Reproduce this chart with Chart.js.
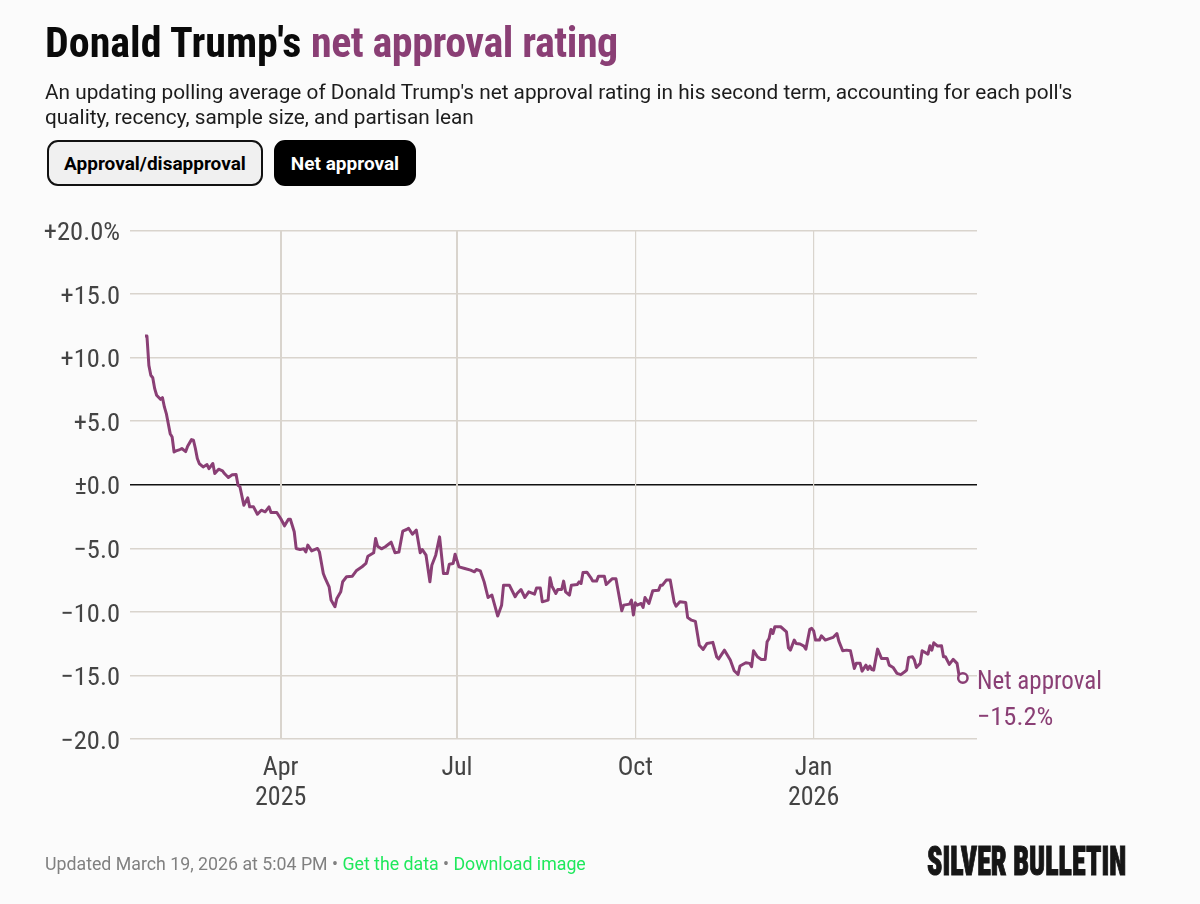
<!DOCTYPE html>
<html><head><meta charset="utf-8">
<script src="https://cdn.jsdelivr.net/npm/chart.js@4"></script>
<style>
html,body{margin:0;padding:0;background:#fbfbfb;width:1200px;height:904px;overflow:hidden}
#wrap{position:relative;width:1200px;height:904px}
canvas{position:absolute;left:0;top:0}
.t{position:absolute;white-space:nowrap}
#title{left:45px;top:19px;font:bold 42px/48px "Roboto Condensed",sans-serif;color:#0a0a0a}
#title span{color:#8a3f75;letter-spacing:-.45px}
#sub{left:45px;top:80px;font:400 20.8px/25px Roboto,sans-serif;color:#1c1c1c}
.btn{position:absolute;top:140px;height:46px;box-sizing:border-box;border-radius:11px;font:bold 19px/44px Roboto,sans-serif;text-align:center}
#b1{left:47px;width:216px;background:#f0f0f0;border:2px solid #111;color:#000}
#b2{left:274px;width:142px;background:#000;border:2px solid #000;color:#fff}
#foot{left:45px;top:852px;font:400 17.75px/24px Roboto,sans-serif;color:#808080}
#foot b{font-weight:400;color:#1fe85c}
#logo{left:927px;top:837px;font:900 41px/48px "Roboto Condensed",sans-serif;color:#161616;-webkit-text-stroke:1px #161616;transform-origin:0 0;transform:scaleX(.682)}
</style></head><body><div id="wrap">
<canvas id="c" width="1200" height="904"></canvas>
<div class="t" id="title">Donald Trump's <span>net approval rating</span></div>
<div class="t" id="sub">An updating polling average of Donald Trump's net approval rating in his second term, accounting for each poll's<br>quality, recency, sample size, and partisan lean</div>
<div class="btn" id="b1">Approval/disapproval</div>
<div class="btn" id="b2">Net approval</div>
<div class="t" id="foot">Updated March 19, 2026 at 5:04 PM • <b>Get the data</b> • <b>Download image</b></div>
<div class="t" id="logo">SILVER BULLETIN</div>
</div>
<script>
const startDate = '2025-01-21';
const seriesName = 'Net approval';
const yTicks = [20,15,10,5,0,-5,-10,-15,-20];
const xTickDates = ['2025-04-01','2025-07-01','2025-10-01','2026-01-01'];
const xTickLabels = [['Apr','2025'],['Jul'],['Oct'],['Jan','2026']];
const days = [0,1,2,3,4,5,6,8,9,10,11,13,14,15,16,18,19,21,22,24,25,26,27,28,30,32,33,35,36,38,40,41,43,45,47,48,49,51,53,54,56,58,60,62,64,65,68,70,72,74,75,77,78,80,82,83,84,86,89,90,92,93,95,96,98,99,101,102,104,107,109,112,114,115,118,119,120,122,124,127,129,131,133,135,136,138,140,142,143,145,147,148,150,152,154,156,157,159,160,162,165,168,170,171,173,175,177,179,182,184,185,188,191,192,194,196,198,201,202,204,205,208,209,210,212,213,215,216,217,219,220,223,224,225,226,228,230,231,233,234,237,238,241,243,246,247,250,251,252,253,254,256,257,258,260,262,265,266,267,269,271,273,274,276,279,280,282,284,286,288,290,293,295,296,299,302,304,306,307,310,312,313,314,316,318,320,321,322,323,324,325,328,331,332,333,335,336,338,340,341,343,344,345,346,348,349,351,355,357,358,360,362,364,366,367,369,370,372,373,374,375,376,378,380,383,384,386,388,390,392,393,394,396,397,398,400,401,404,405,406,407,409,411,412,413,415,417,419,420,422];
const netApproval = [11.7,11.7,9.39,8.61,8.42,7.56,7.04,6.72,6.85,6.12,5.6,4.02,3.76,2.58,2.66,2.77,2.85,2.61,3.03,3.55,3.5,2.85,2.06,1.67,1.4,1.59,1.27,1.67,0.88,1.22,1.09,0.88,0.57,0.78,0.8,-0.04,-0.17,-1.61,-1.03,-1.74,-1.74,-2.32,-2,-2.13,-1.74,-2.18,-2.18,-2.66,-3.23,-2.71,-2.71,-3.7,-5.01,-5.09,-5.04,-5.28,-4.75,-5.2,-5.01,-5.28,-6.98,-7.37,-8.03,-9.07,-9.6,-8.94,-8.42,-7.63,-7.24,-7.19,-6.77,-6.45,-6.19,-5.62,-5.35,-4.23,-4.83,-5.04,-4.88,-4.52,-5.35,-5.3,-3.65,-3.52,-3.42,-3.89,-3.57,-5.35,-5.09,-5.54,-7.63,-6.33,-5.54,-4.1,-6.98,-6.98,-6.25,-6.2,-5.46,-6.46,-6.59,-6.72,-6.85,-6.67,-6.77,-7.64,-8.87,-8.68,-10.33,-9.47,-7.9,-7.9,-8.81,-8.55,-8.24,-8.87,-8.42,-8.6,-8.13,-8.13,-9.21,-9.08,-7.32,-7.98,-8.55,-8.24,-8.24,-7.58,-8.42,-8.68,-7.9,-7.85,-7.64,-7.77,-6.9,-6.88,-7.3,-7.58,-7.58,-7.19,-7.19,-7.85,-7.4,-7.4,-9.91,-9.47,-9.39,-9.08,-10.25,-9.29,-9.47,-9.34,-9.65,-8.87,-9.34,-8.34,-8.29,-7.9,-7.9,-7.5,-7.5,-9.21,-9.55,-9.21,-9.26,-10.45,-10.65,-10.75,-12.63,-12.95,-12.48,-12.4,-13.55,-13.7,-13.01,-13.79,-14.63,-14.92,-14.26,-14,-14.05,-14.31,-13.06,-13.53,-13.74,-13.74,-12.35,-12.09,-11.38,-11.7,-11.17,-11.17,-11.57,-12.82,-13.01,-12.22,-12.48,-12.53,-12.69,-12.93,-11.38,-11.3,-11.49,-12.22,-12.22,-11.88,-12.22,-12.01,-11.7,-12.3,-13.06,-13.01,-13.06,-14.45,-14.05,-14.05,-14.66,-14.19,-14.53,-14.26,-14.53,-14.58,-12.93,-13.66,-13.66,-14.19,-14.37,-14.84,-14.94,-14.71,-14.58,-13.58,-13.53,-13.79,-14.37,-14.05,-13.06,-13.32,-12.67,-13.01,-12.43,-12.69,-12.67,-13.53,-13.53,-14.13,-13.74,-14.05,-14.97,-15.2];

const dayOf = s => Math.round((Date.parse(s) - Date.parse(startDate)) / 864e5);
const xTicks = xTickDates.map(dayOf);
const FONT = '"Roboto Condensed",sans-serif';
const PURPLE = '#8a3f75', GRID = '#d9d4cd', BG = '#fbfbfb';
const fmt = v => v === 0 ? '±0.0' : (v > 0 ? '+' : '−') + Math.abs(v).toFixed(1);
const last = days.length - 1;

const endLabel = {
  id: 'endLabel',
  afterDatasetsDraw(chart) {
    const {ctx, scales: {x, y}} = chart;
    const px = x.right, py = y.getPixelForValue(netApproval[last]);
    ctx.save();
    ctx.fillStyle = PURPLE;
    ctx.textBaseline = 'middle';
    ctx.font = '25px ' + FONT;
    ctx.fillText(seriesName, px, py + 5);
    ctx.font = '26.5px ' + FONT;
    ctx.fillText(fmt(netApproval[last]) + '%', px, py + 40);
    ctx.restore();
  }
};

new Chart(document.getElementById('c'), {
  type: 'line',
  data: {datasets: [{
    label: seriesName,
    data: days.map((d, i) => ({x: d, y: netApproval[i]})),
    borderColor: PURPLE, borderWidth: 3, tension: 0, borderJoinStyle: 'round',
    pointRadius: c => c.dataIndex === last ? 4.7 : 0,
    pointBorderWidth: 2.5, pointBorderColor: PURPLE, pointBackgroundColor: BG
  }]},
  options: {
    responsive: false, animation: false, devicePixelRatio: 1,
    layout: {padding: {top: 230.5, right: 223, left: 0, bottom: 0}},
    plugins: {legend: {display: false}, tooltip: {enabled: false}},
    scales: {
      x: {
        type: 'linear', min: -7.74, max: 429.3,
        afterBuildTicks: a => { a.ticks = xTicks.map(v => ({value: v})); },
        afterFit: a => { a.height = 165; },
        border: {display: false},
        grid: {color: GRID, lineWidth: c => c.index < 2 ? 2 : 1.2, drawTicks: false, z: 0},
        ticks: {
          autoSkip: false, maxRotation: 0, padding: 15, color: '#444',
          font: {family: FONT, size: 26, lineHeight: 1.15},
          callback: v => xTickLabels[xTicks.indexOf(v)]
        }
      },
      y: {
        min: -20, max: 20,
        afterBuildTicks: a => { a.ticks = yTicks.map(v => ({value: v})); },
        afterFit: a => { a.width = 130; },
        border: {display: false},
        grid: {
          color: c => c.tick && c.tick.value === 0 ? '#111' : GRID,
          lineWidth: 1.6, drawTicks: false
        },
        ticks: {
          padding: 10, labelOffset: 3, color: '#444',
          font: {family: FONT, size: 26.5},
          callback: v => v === 20 ? fmt(v) + '%' : fmt(v)
        }
      }
    }
  },
  plugins: [endLabel]
});
</script></body></html>
